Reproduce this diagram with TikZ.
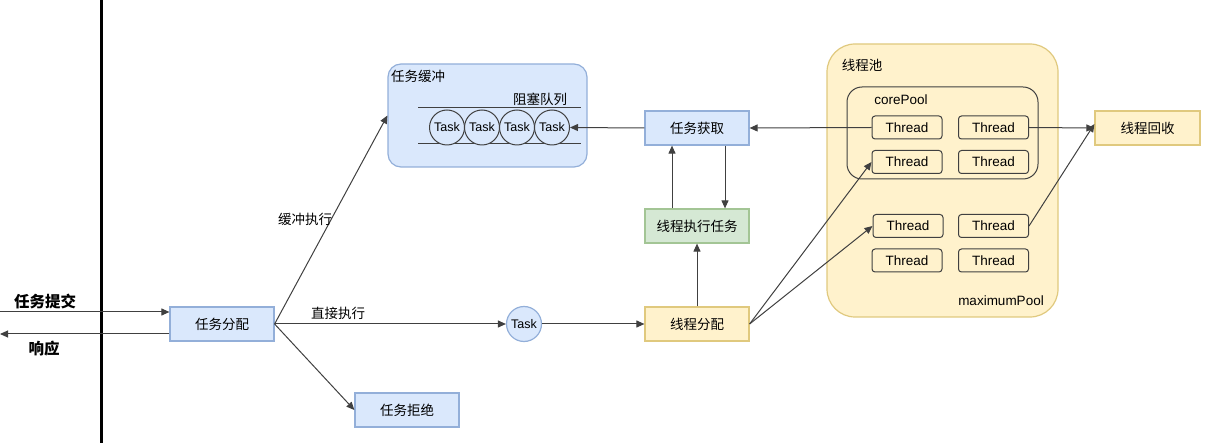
\documentclass[tikz,border=0pt]{standalone}
\usepackage{fontspec}
\setmainfont{Liberation Sans}
\newfontfamily\cjk{Noto Sans CJK SC}
\usetikzlibrary{arrows.meta}
\definecolor{bfill}{HTML}{DAE8FC}
\definecolor{bdraw}{HTML}{93AFD9}
\definecolor{yfill}{HTML}{FFF2CC}
\definecolor{ydraw}{HTML}{E0C97E}
\definecolor{gfill}{HTML}{D5E8D4}
\definecolor{gdraw}{HTML}{A3C595}
\definecolor{ln}{HTML}{404040}
\tikzset{
  txt/.style={font=\cjk\fontsize{13.5}{16}\selectfont, text=black},
  ltxt/.style={font=\fontsize{13.5}{16}\selectfont, text=black},
  box/.style={txt, minimum width=104pt, minimum height=34pt, inner sep=0pt, line width=1.2pt},
  bluebox/.style={box, fill=bfill, draw=bdraw},
  ybox/.style={box, fill=yfill, draw=ydraw},
  gbox/.style={box, fill=gfill, draw=gdraw},
  thr/.style={ltxt, draw=ln, fill=yfill, rounded corners=3pt, minimum width=70pt, minimum height=23pt, inner sep=0pt, line width=1pt},
  taskc/.style={circle, font=\fontsize{12.5}{15}\selectfont, minimum size=35pt, inner sep=0pt, line width=1pt},
  conn/.style={draw=ln, line width=1pt},
  arr/.style={conn, -{Triangle[length=8pt,width=7pt]}},
}
\begin{document}
\begin{tikzpicture}[x=1pt,y=-1pt]
\useasboundingbox (0,0) rectangle (1228,443);

% containers
\node[draw=ydraw, fill=yfill, rounded corners=28pt, line width=1.2pt, minimum width=231pt, minimum height=273pt] (pool) at (942.5,180.5) {};
\node[draw=ln, rounded corners=15pt, line width=1pt, minimum width=191pt, minimum height=92pt] (core) at (942.5,133) {};
\node[draw=bdraw, fill=bfill, rounded corners=13pt, line width=1.2pt, minimum width=199pt, minimum height=103pt] (buf) at (487.5,115.5) {};

% container labels
\node[txt] (poollbl) at (862,65) {线程池};
\node[ltxt] (corelbl) at (901,100) {corePool};
\node[ltxt] (maxlbl) at (1001,301) {maximumPool};
\node[txt] (buflbl) at (418,76) {任务缓冲};
\node[txt] (qlbl) at (540,99) {阻塞队列};

% queue
\coordinate (qa1) at (418,108); \coordinate (qa2) at (581,108);
\coordinate (qb1) at (418,144); \coordinate (qb2) at (581,144);
\draw[conn] (qa1) -- (qa2);
\draw[conn] (qb1) -- (qb2);
\node[taskc, draw=ln, fill=bfill] (q1) at (447,127.5) {Task};
\node[taskc, draw=ln, fill=bfill] (q2) at (482,127.5) {Task};
\node[taskc, draw=ln, fill=bfill] (q3) at (517,127.5) {Task};
\node[taskc, draw=ln, fill=bfill] (q4) at (552,127.5) {Task};

% threads
\node[thr] (t1) at (907,127.5) {Thread};
\node[thr] (t2) at (993.5,127.5) {Thread};
\node[thr] (t3) at (907,162) {Thread};
\node[thr] (t4) at (993.5,162) {Thread};
\node[thr] (t5) at (908,226) {Thread};
\node[thr] (t6) at (993.5,226) {Thread};
\node[thr] (t7) at (907,260.5) {Thread};
\node[thr] (t8) at (993.5,260.5) {Thread};

% boxes
\node[bluebox] (fp) at (222,324) {任务分配};
\node[bluebox] (rej) at (407,410) {任务拒绝};
\node[taskc, fill=bfill, draw=bdraw, line width=1.2pt] (tk) at (524,324) {Task};
\node[ybox] (ta) at (697,324) {线程分配};
\node[gbox] (ex) at (697,226) {线程执行任务};
\node[bluebox] (get) at (697,128) {任务获取};
\node[ybox, minimum width=105pt] (rec) at (1147.5,128) {线程回收};

% left side
\coordinate (vt) at (101,0);
\coordinate (vb) at (101,443);
\draw[line width=3pt, black] (vt) -- (vb);
\coordinate (sub) at (0,312);
\coordinate (resp) at (0,334);
\draw[arr] (sub) -- (fp.west |- sub);
\draw[arr] (fp.west |- resp) -- (resp);
\node[txt, font=\cjk\bfseries\fontsize{15.5}{18}\selectfont] (sublbl) at (45,301) {任务提交};
\node[txt, font=\cjk\bfseries\fontsize{15.5}{18}\selectfont] (resplbl) at (44,349) {响应};

% connectors
\draw[arr] (fp.east) -- (buf.west);
\node[txt] (bl) at (305,219) {缓冲执行};
\draw[arr] (fp.east) -- (tk.west);
\node[txt] (dl) at (338,313) {直接执行};
\draw[arr] (fp.east) -- (rej.west);
\draw[arr] (tk.east) -- (ta.west);
\draw[arr] (ta.north) -- (ex.south);
\draw[arr] ([xshift=-25pt]ex.north) -- ([xshift=-25pt]get.south);
\draw[arr] ([xshift=28pt]get.south) -- ([xshift=28pt]ex.north);
\draw[arr] (get.west) -- (q4.east);
\draw[arr] (t1.west) -- (get.east);
\draw[arr] (t2.east) -- (rec.west);
\draw[arr] (t6.east) -- ([yshift=4pt]rec.west);
\draw[arr] (ta.east) -- (t3.west);
\draw[arr] (ta.east) -- (t5.west);
\end{tikzpicture}
\end{document}
